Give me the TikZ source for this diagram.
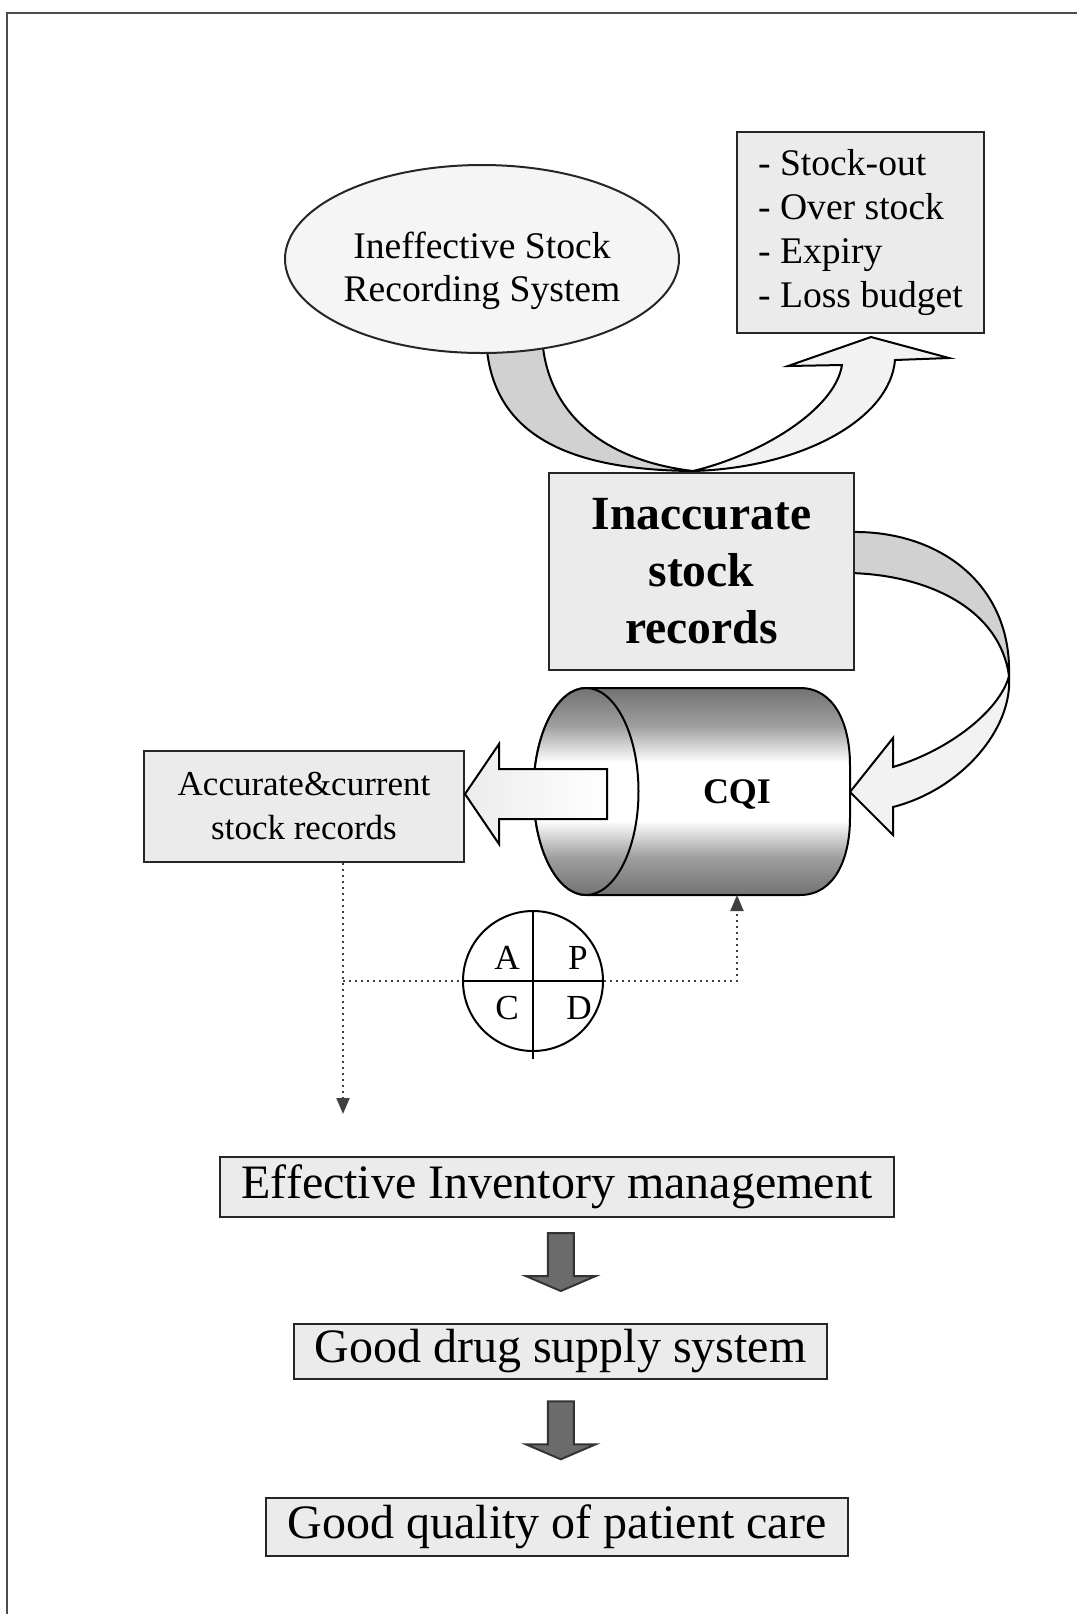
\documentclass[tikz,border=0pt]{standalone}
\usepackage{fontspec}
\setmainfont{Liberation Serif}
\usetikzlibrary{positioning,calc,shapes.geometric,arrows.meta}

\definecolor{boxfill}{gray}{0.92}
\definecolor{bandgray}{gray}{0.82}
\definecolor{bandwhite}{gray}{0.95}
\definecolor{cyldark}{gray}{0.45}
\definecolor{cylmid}{gray}{0.62}
\definecolor{arrowdark}{gray}{0.42}

\pgfdeclareverticalshading{cylshade}{100bp}{color(0bp)=(cyldark); color(25bp)=(cyldark); color(34bp)=(cylmid); color(43bp)=(white); color(57bp)=(white); color(66bp)=(cylmid); color(75bp)=(cyldark); color(100bp)=(cyldark)}

\begin{document}
\begin{tikzpicture}[x=0.5pt,y=-0.5pt,
  box/.style={draw=black!85,line width=1pt,fill=boxfill,inner sep=0pt,align=center},
  bigtext/.style={font=\fontsize{24}{29}\selectfont},
  smalltext/.style={font=\fontsize{18.8}{21.5}\selectfont},
  dotlink/.style={dotted,line width=1pt,black!75},
  blockdown/.style={draw=black!80,line width=1pt,fill=arrowdark}]
\useasboundingbox (0,0) rectangle (1077,1614);

% Frame
\draw[line width=1.4pt,black!70] (1077,13) -- (7,13) -- (7,1614);

% Curved arrow from the ellipse to the list
\coordinate (uA) at (486,335);
\coordinate (uB) at (542,335);
\coordinate (uP) at (693,471);
\coordinate (uC) at (842,365);
\coordinate (uD) at (895,360);
\draw[line width=1pt,fill=bandgray] (uA) .. controls (488,430) and (560,470) .. (uP) .. controls (600,460) and (545,410) .. (uB) -- cycle;
\draw[line width=1pt,fill=bandwhite] (uP) .. controls (760,455) and (835,410) .. (uC) -- (788,366) -- (871,337) -- (949,358) -- (uD) .. controls (890,420) and (800,468) .. (uP) -- cycle;

% Ellipse and list
\node[ellipse,draw=black!85,line width=1pt,fill=gray!8,minimum width=197pt,minimum height=94pt,inner sep=0pt] (ineff) at (482,259) {};
\node[smalltext,align=center] (ineffText) at ($(ineff)+(0,12)$) {Ineffective Stock\\Recording System};
\node[box,align=left,font=\fontsize{18.8}{22}\selectfont,minimum width=123.5pt,minimum height=100.5pt] (effects) at (860.5,232.5) {- Stock-out\\- Over stock\\- Expiry\\- Loss budget};

% Curved arrow from the records box to the CQI drum
\coordinate (rA) at (850,532);
\coordinate (rB) at (850,573);
\coordinate (rX) at (1009,676);
\coordinate (rC) at (893,767);
\coordinate (rD) at (893,807);
\draw[line width=1pt,fill=bandgray] (rA) .. controls (940,530) and (1012,585) .. (rX) .. controls (1000,610) and (930,575) .. (rB) -- cycle;
\draw[line width=1pt,fill=bandwhite] (rX) .. controls (1000,710) and (950,750) .. (rC) -- (893,738) -- (850,792) -- (893,835) -- (rD) .. controls (960,790) and (1013,730) .. (rX) -- cycle;

\node[box,font=\bfseries\fontsize{23.8}{28.5}\selectfont,minimum width=152.5pt,minimum height=98.5pt] (inacc) at (701.5,571.5) {Inaccurate\\stock\\records};

% CQI drum
\draw[line width=1pt,shading=cylshade] (586,688) -- (800,688) .. controls (835,688) and (850,725) .. (850,765) -- (850,818) .. controls (850,858) and (835,895) .. (800,895) -- (586,895) arc[start angle=90,end angle=270,x radius=52.5,y radius=103.5] -- cycle;
\draw[line width=1pt,shading=cylshade] (586,791.5) ellipse [x radius=52.5,y radius=103.5];
\node[font=\bfseries\fontsize{18}{22}\selectfont] (cqi) at (737,794) {CQI};

% Accurate records and the block arrow
\node[box,font=\fontsize{17.5}{22}\selectfont,minimum width=160pt,minimum height=55.5pt] (accur) at (304,806.5) {Accurate\&current\\stock records};
\coordinate (tipL) at (accur.east |- cqi);
\draw[line width=1pt,left color=gray!15,right color=white] (tipL) -- ++(34,-50) -- ++(0,25) -- ++(108,0) -- ++(0,50) -- ++(-108,0) -- ++(0,25) -- cycle;

% PDCA wheel
\node[circle,draw,line width=1pt,minimum size=70pt,inner sep=0pt] (pdca) at (533,981) {};
\draw[line width=1pt] (pdca.north) -- ($(pdca.south)+(0,7)$);
\draw[line width=1pt] (pdca.west) -- (pdca.east);
\foreach \l/\dx/\dy in {A/-26/-23,P/45/-23,C/-26/27,D/46/27}{
  \node[font=\fontsize{17.6}{20}\selectfont] (pdca\l) at ($(pdca)+(\dx,\dy)$) {\l};
}

% Dotted links
\coordinate (split) at (343,981);
\coordinate (cylbot) at (737,895);
\coordinate (dropend) at (343,1114);
\draw[dotlink,-{Triangle[length=8pt,width=6.5pt]}] (accur.south -| split) -- (dropend);
\draw[dotlink] (split) -- (pdca.west);
\draw[dotlink,-{Triangle[length=8pt,width=6.5pt]}] (pdca.east) -| (cylbot);

% Outcome chain
\node[box,bigtext,minimum width=337pt,minimum height=30pt] (effinv) at (557,1186.5) {Effective Inventory management};
\node[box,bigtext,minimum width=266.5pt,minimum height=27.5pt] (supply) at (560.5,1351) {Good drug supply system};
\node[box,bigtext,minimum width=291pt,minimum height=29pt] (care) at (557,1527) {Good quality of patient care};

\foreach \a/\b in {effinv/supply,supply/care}{
  \coordinate (m) at ($(\a.south)!0.5!(\b.north)$);
  \draw[blockdown] ($(m)+(-11,-37)$) -- ++(26,0) -- ++(0,43) -- ++(22,0) -- ++(-35,15) -- ++(-35,-15) -- ++(22,0) -- cycle;
}
\end{tikzpicture}
\end{document}
